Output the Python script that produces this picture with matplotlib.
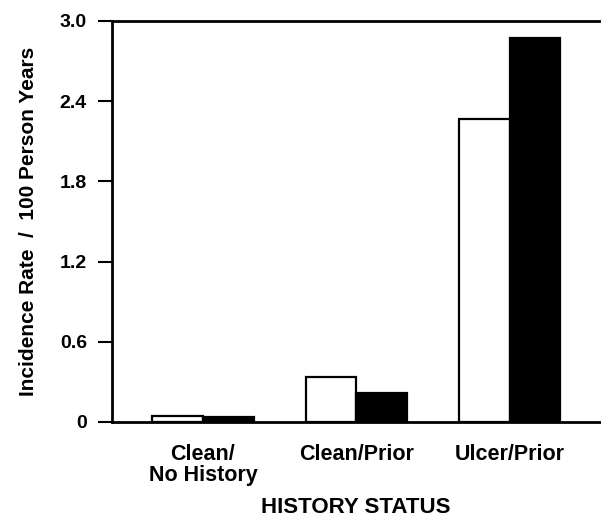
import matplotlib
matplotlib.use("Agg")
import matplotlib.pyplot as plt
import numpy as np

categories = ["Clean/\nNo History", "Clean/Prior", "Ulcer/Prior"]
series_open = [0.045, 0.34, 2.27]
series_filled = [0.037, 0.22, 2.87]
yticks = [0, 0.6, 1.2, 1.8, 2.4, 3.0]
yticklabels = ["0", "0.6", "1.2", "1.8", "2.4", "3.0"]

plt.rcParams['font.family'] = ['Liberation Sans', 'DejaVu Sans']
plt.rcParams['font.weight'] = 'bold'

fig = plt.figure(figsize=(6.01, 5.19), dpi=100)
ax = fig.add_axes([112/601, 1-422/519, 488/601, (422-21)/519])

x = np.arange(len(categories))
w = 0.33
ax.bar(x - w/2, series_open, width=w, color='white', edgecolor='black', linewidth=1.6)
ax.bar(x + w/2, series_filled, width=w, color='black', edgecolor='black', linewidth=1.6)

ax.set_xlim(-0.593, 2.59)
ax.set_ylim(0, 3.0)
ax.set_yticks(yticks)
ax.set_yticklabels(yticklabels, fontsize=14, fontweight='bold')
ax.set_xticks(x)
ax.set_xticklabels(categories, fontsize=15.5, fontweight='bold', linespacing=1.0)
ax.tick_params(axis='x', length=0, pad=16)
ax.tick_params(axis='y', length=10, width=1.5, direction='out', pad=8)

for s in ['left', 'bottom', 'top']:
    ax.spines[s].set_linewidth(2)
ax.spines['right'].set_visible(False)

ax.set_xlabel("HISTORY STATUS", fontsize=16, fontweight='bold', labelpad=8)
ax.set_ylabel("Incidence Rate  /  100 Person Years", fontsize=15, fontweight='bold', labelpad=16)

fig.savefig("out.png", dpi=100)
